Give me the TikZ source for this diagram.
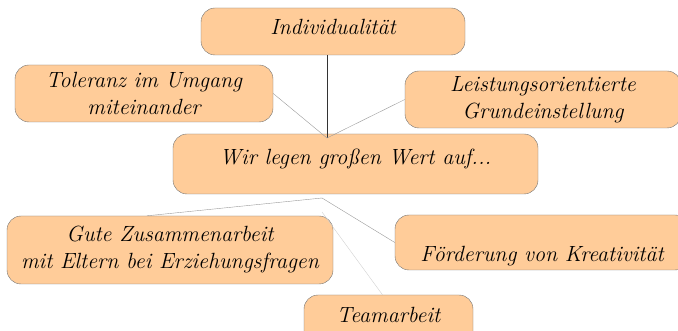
\documentclass[tikz,border=0pt]{standalone}
\usepackage{fontspec}
\begin{document}
\begin{tikzpicture}[x=1pt,y=-1pt]
  % Colors
  \definecolor{boxfill}{RGB}{255,204,153}
  \colorlet{boxline}{black!55}
  \colorlet{maincolor}{black!80}
  \colorlet{sidecolor}{black!40}
  \colorlet{faintcolor}{black!18}

  % Styles
  \tikzstyle{topic}=[draw=boxline,fill=boxfill,rounded corners=14pt,inner xsep=4pt,inner ysep=0pt,
    align=center,font=\fontsize{22}{27}\selectfont\itshape]
  \tikzstyle{main link}=[maincolor,thick]
  \tikzstyle{side link}=[sidecolor]
  \tikzstyle{faint link}=[faintcolor]

  % The graphic
  \useasboundingbox (0,0) rectangle (678,331);
  \clip (0,0) rectangle (678,331);

  \node[topic,minimum width=264pt,minimum height=47pt,text height=27pt,text depth=20pt]
    (indiv) at (333,31.5) {Individualität};
  \node[topic,minimum width=258pt,minimum height=57pt] (toler) at (144,93.5)
    {Toleranz im Umgang\\miteinander};
  \node[topic,minimum width=276pt,minimum height=57pt] (leist) at (543,99.5)
    {Leistungsorientierte\\Grundeinstellung};
  \node[topic,minimum width=365pt,minimum height=60pt,text height=31pt,text depth=29pt]
    (wert) at (355.5,164) {Wir legen großen Wert auf...};
  \node[topic,minimum width=326pt,minimum height=68pt] (gute) at (170,250)
    {Gute Zusammenarbeit\\mit Eltern bei Erziehungsfragen};
  \node[topic,minimum width=294pt,minimum height=55pt,text height=47pt,text depth=8pt]
    (foerd) at (542,242.5) {Förderung von Kreativität};
  \node[topic,minimum width=169pt,minimum height=50pt,text height=28pt,text depth=22pt]
    (team) at (388.5,320) {Teamarbeit};

  \coordinate (tophub) at (327,138);
  \coordinate (bothub) at (322,198);
  \coordinate (teamhub) at (322,212);

  \draw[style=main link] (tophub |- indiv.south) -- (tophub);
  \draw[style=side link] (toler.east) -- (tophub);
  \draw[style=side link] (leist.west) -- (tophub);
  \draw[style=side link] (bothub) -- ([xshift=-23pt]gute.north);
  \draw[style=side link] (bothub) -- (foerd.west);
  \draw[style=faint link] (teamhub) -- ([xshift=-6pt]team.north);
\end{tikzpicture}
\end{document}
